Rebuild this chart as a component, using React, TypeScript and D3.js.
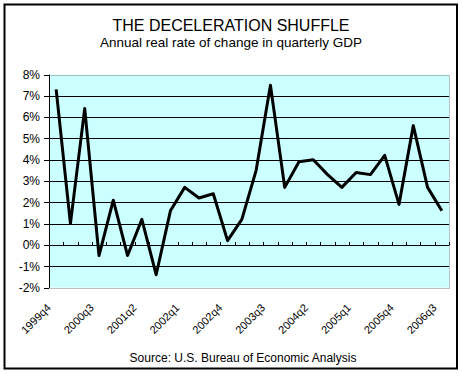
import React from "react";
import * as d3 from "d3";

const categories: string[] = [
  "1999q4", "2000q1", "2000q2", "2000q3", "2000q4", "2001q1", "2001q2",
  "2001q3", "2001q4", "2002q1", "2002q2", "2002q3", "2002q4", "2003q1",
  "2003q2", "2003q3", "2003q4", "2004q1", "2004q2", "2004q3", "2004q4",
  "2005q1", "2005q2", "2005q3", "2005q4", "2006q1", "2006q2", "2006q3",
];

const gdpChange: number[] = [
  7.3, 1.0, 6.4, -0.5, 2.1, -0.5, 1.2, -1.4, 1.6, 2.7, 2.2, 2.4, 0.2, 1.2,
  3.5, 7.5, 2.7, 3.9, 4.0, 3.3, 2.7, 3.4, 3.3, 4.2, 1.9, 5.6, 2.7, 1.6,
];

const xTickLabels: string[] = [
  "1999q4", "2000q3", "2001q2", "2002q1", "2002q4", "2003q3", "2004q2",
  "2005q1", "2005q4", "2006q3",
];

const yTicks: number[] = [8, 7, 6, 5, 4, 3, 2, 1, 0, -1, -2];

const title = "THE DECELERATION SHUFFLE";
const subtitle = "Annual real rate of change in quarterly GDP";
const source = "Source: U.S. Bureau of Economic Analysis";

const W = 463;
const H = 379;
const FONT = "'Liberation Sans', Arial, sans-serif";

export default function App() {
  const left = 49;
  const right = 449;
  const top = 74.5;
  const bottom = 287.5;

  const x = d3.scaleBand<string>().domain(categories).range([left, right]).padding(0);
  const cx = (c: string) => (x(c) as number) + x.bandwidth() / 2;
  const y = d3.scaleLinear().domain([-2, 8]).range([bottom, top]);

  const line = d3
    .line<number>()
    .x((_, i) => cx(categories[i]))
    .y((d) => y(d));

  const boundaries = d3.range(categories.length + 1).map((k) => left + k * x.bandwidth());

  return (
    <div style={{ position: "absolute", left: 0, top: 0 }}>
      <svg width={W} height={H} style={{ display: "block", background: "#fff" }}>
        <rect x={4.5} y={4.5} width={452.5} height={364} fill="#fff" stroke="#000" strokeWidth={2} />
        <text x={231} y={31} textAnchor="middle" fontFamily={FONT} fontSize={16} fill="#000">
          {title}
        </text>
        <text x={231} y={46.5} textAnchor="middle" fontFamily={FONT} fontSize={13.5} fill="#000">
          {subtitle}
        </text>

        <rect x={left} y={top} width={right - left} height={bottom - top} fill="#ccffff" />

        {yTicks
          .filter((t) => t !== 8 && t !== -2)
          .map((t) => (
            <line
              key={"g" + t}
              x1={left}
              x2={right}
              y1={Math.round(y(t)) + 0.5}
              y2={Math.round(y(t)) + 0.5}
              stroke="#000"
              strokeWidth={1}
            />
          ))}

        <rect
          x={left + 0.5}
          y={Math.round(top) + 0.5}
          width={right - left}
          height={Math.round(bottom) - Math.round(top)}
          fill="none"
          stroke="#808080"
          strokeWidth={1}
          strokeDasharray="1 1"
        />

        {boundaries.map((bx, i) => (
          <line
            key={"b" + i}
            x1={Math.round(bx) + 0.5}
            x2={Math.round(bx) + 0.5}
            y1={Math.round(y(0)) + 0.5}
            y2={Math.round(y(0)) - 3}
            stroke="#000"
            strokeWidth={1}
          />
        ))}

        <line x1={left + 0.5} x2={left + 0.5} y1={top} y2={bottom + 0.5} stroke="#000" strokeWidth={1} />
        {yTicks.map((t) => (
          <g key={"y" + t}>
            <line
              x1={left - 5}
              x2={left}
              y1={Math.round(y(t)) + 0.5}
              y2={Math.round(y(t)) + 0.5}
              stroke="#000"
              strokeWidth={1}
            />
            <text x={40} y={y(t) + 4.3} textAnchor="end" fontFamily={FONT} fontSize={12} fill="#000">
              {t + "%"}
            </text>
          </g>
        ))}

        <path
          d={line(gdpChange) || ""}
          fill="none"
          stroke="#000"
          strokeWidth={3}
          strokeLinejoin="round"
        />

        {xTickLabels.map((lab) => {
          const px = cx(lab) - 4.5;
          const py = 308.5;
          return (
            <text
              key={lab}
              x={px}
              y={py}
              textAnchor="end"
              transform={`rotate(-45 ${px} ${py})`}
              fontFamily={FONT}
              fontSize={11}
              fill="#000"
            >
              {lab}
            </text>
          );
        })}

        <text x={243} y={361.5} textAnchor="middle" fontFamily={FONT} fontSize={12} fill="#000">
          {source}
        </text>
      </svg>
    </div>
  );
}
